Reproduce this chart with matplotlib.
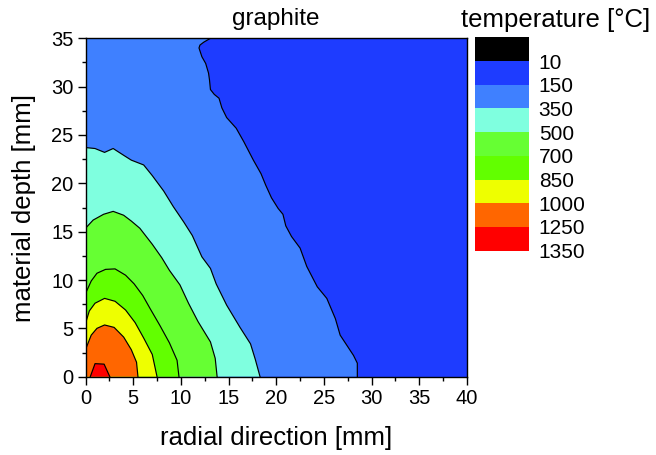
import matplotlib
matplotlib.use('Agg')
import matplotlib.pyplot as plt
from matplotlib.ticker import MultipleLocator

plt.rcParams['font.family'] = ['Liberation Sans', 'DejaVu Sans']

# legend levels (labels at box boundaries) and colours (top to bottom)
legend_labels = ['10', '150', '350', '500', '700', '850', '1000', '1250', '1350']
legend_colors = ['#000000', '#1E3CFF', '#3F80FF', '#7FFFDF', '#66FF33',
                 '#62FF00', '#EEFF00', '#FF6600', '#FF0000']

# contour lines (radial direction x, depth z, in mm)
c150_x = [13.1, 12.4, 12.0, 11.9, 12.2, 12.6, 12.9, 13.0, 13.1, 13.5, 14.0, 14.3,
          14.8, 15.8, 16.6, 17.6, 18.4, 18.9, 19.5, 20.2, 20.7, 21.0, 21.6, 22.5,
          23.2, 24.3, 25.3, 26.2, 26.7, 28.1, 28.5, 28.5]
c150_z = [35.0, 34.6, 34.3, 34.0, 33.1, 32.4, 31.4, 30.7, 29.7, 29.2, 28.8, 27.8,
          26.8, 25.7, 24.3, 22.4, 21.0, 19.8, 18.5, 17.4, 16.8, 15.6, 14.5, 13.3,
          11.4, 9.3, 8.1, 6.0, 4.3, 2.2, 1.4, 0.0]

c350_x = [0.0, 1.0, 2.0, 2.9, 4.0, 4.8, 6.1, 7.0, 8.2, 9.2, 10.3, 11.2, 12.2,
          13.1, 13.7, 14.8, 16.2, 17.3, 17.8, 18.3]
c350_z = [23.7, 23.6, 23.2, 23.6, 22.9, 22.4, 21.9, 20.8, 19.2, 17.6, 16.0, 14.6,
          12.4, 11.2, 9.6, 7.4, 5.1, 3.4, 1.8, 0.0]

c500_x = [0.0, 0.8, 1.9, 2.9, 4.0, 4.8, 5.7, 7.0, 8.0, 8.8, 9.9, 10.8, 11.8,
          13.1, 13.6, 13.8]
c500_z = [15.35, 16.2, 16.8, 17.1, 16.7, 16.1, 15.35, 13.7, 12.3, 11.0, 9.5, 7.6,
          5.7, 3.6, 1.9, 0.0]

c700_x = [0.0, 0.6, 1.2, 2.1, 3.1, 4.2, 5.1, 6.0, 6.8, 7.8, 8.8, 9.6, 9.8]
c700_z = [8.6, 9.9, 10.7, 11.1, 11.15, 10.5, 9.6, 8.4, 7.0, 5.3, 3.5, 1.7, 0.0]

c850_x = [0.0, 0.4, 1.0, 2.0, 3.1, 4.2, 5.2, 6.1, 7.0, 7.5]
c850_z = [5.5, 6.8, 7.6, 8.1, 7.8, 6.9, 5.6, 4.0, 2.3, 0.0]

c1000_x = [0.0, 0.6, 1.2, 2.0, 3.0, 4.0, 4.8, 5.35, 5.5]
c1000_z = [2.8, 4.3, 5.0, 5.35, 5.1, 4.1, 2.8, 1.5, 0.0]

c1250_x = [0.5, 1.0, 1.95, 2.55]
c1250_z = [0.0, 1.35, 1.3, 0.0]

W, H = 656, 455
fig = plt.figure(figsize=(W / 100, H / 100), dpi=100)
x0, x1, y0, y1 = 85.5, 467.0, 38.3, 376.7
ax = fig.add_axes([x0 / W, 1 - y1 / H, (x1 - x0) / W, (y1 - y0) / H])
ax.set_xlim(0, 40)
ax.set_ylim(0, 35)
ax.set_facecolor(legend_colors[1])

# region above 150: bounded by contour, left edge and top edge
ax.fill([0] + c150_x + [0], [35] + c150_z + [0], color=legend_colors[2], lw=0, zorder=1)
regions = [(c350_x, c350_z, legend_colors[3]),
           (c500_x, c500_z, legend_colors[4]),
           (c700_x, c700_z, legend_colors[5]),
           (c850_x, c850_z, legend_colors[6]),
           (c1000_x, c1000_z, legend_colors[7])]
for cx, cz, col in regions:
    ax.fill(cx + [0], cz + [0], color=col, lw=0, zorder=1)
ax.fill(c1250_x, c1250_z, color=legend_colors[8], lw=0, zorder=1)

for cx, cz in [(c150_x, c150_z), (c350_x, c350_z), (c500_x, c500_z),
               (c700_x, c700_z), (c850_x, c850_z), (c1000_x, c1000_z),
               (c1250_x, c1250_z)]:
    ax.plot(cx, cz, color='black', lw=0.85, zorder=2, solid_joinstyle='round')

ax.xaxis.set_major_locator(MultipleLocator(5))
ax.xaxis.set_minor_locator(MultipleLocator(2.5))
ax.yaxis.set_major_locator(MultipleLocator(5))
ax.yaxis.set_minor_locator(MultipleLocator(2.5))
ax.tick_params(which='major', direction='out', length=5.5, width=1, labelsize=14.5,
               pad=3, top=False, right=False)
ax.tick_params(which='minor', direction='out', length=3, width=1, top=False, right=False)
for s in ax.spines.values():
    s.set_linewidth(1.0)
    s.set_zorder(5)

ax.set_xlabel('radial direction [mm]', fontsize=18.5, labelpad=13)
ax.set_ylabel('material depth [mm]', fontsize=18.5, labelpad=11)
fig.text(276 / W, 1 - 25 / H, 'graphite', fontsize=17.5, ha='center', va='baseline')
fig.text(556 / W, 1 - 26.5 / H, 'temperature [°C]', fontsize=18.5, ha='center', va='baseline')

# legend boxes
lx0, lx1, ly0, ly1 = 475, 529, 37.3, 250.7
lax = fig.add_axes([lx0 / W, 1 - ly1 / H, (lx1 - lx0) / W, (ly1 - ly0) / H])
n = len(legend_colors)
lax.barh([i + 0.5 for i in range(n)], [1] * n, height=1, left=0,
         color=legend_colors, lw=0)
lax.set_xlim(0, 1)
lax.set_ylim(n, 0)
lax.set_xticks([])
lax.set_yticks([i + 1 for i in range(n)])
lax.set_yticklabels(legend_labels)
lax.yaxis.tick_right()
lax.tick_params(axis='y', length=0, pad=7, labelsize=15)
for s in lax.spines.values():
    s.set_visible(False)

fig.savefig('out.png', dpi=100)
